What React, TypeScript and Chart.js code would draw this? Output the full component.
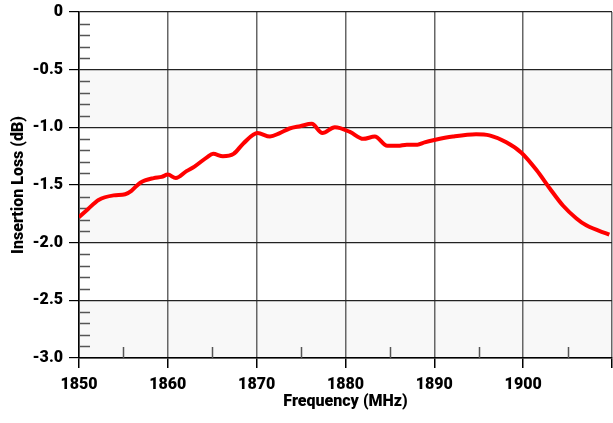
import React, { useEffect, useRef } from "react";
import { Chart, registerables } from "chart.js";

Chart.register(...registerables);

const frequencies = [
  1850, 1851, 1852.2, 1853.9, 1855.2, 1855.9, 1856.9, 1858.4, 1859.3, 1860.0, 1860.9,
  1862.1, 1863.0, 1864.4, 1865.1, 1866.2, 1867.4, 1868.5, 1870.1, 1871.5, 1872.6,
  1873.7, 1874.9, 1876.2, 1877.4, 1878.8, 1880.5, 1882.0, 1883.3, 1884.7, 1885.9,
  1886.9, 1888.1, 1888.9, 1890.0, 1892.1, 1894.7, 1896.2, 1898.1, 1899.8, 1901.5,
  1903.0, 1904.5, 1906.0, 1907.1, 1909.7,
];
const insertionLoss = [
  -1.78, -1.71, -1.63, -1.59, -1.58, -1.55, -1.48, -1.44, -1.43, -1.41, -1.44,
  -1.38, -1.34, -1.26, -1.23, -1.25, -1.23, -1.14, -1.05, -1.08, -1.05,
  -1.01, -0.99, -0.97, -1.05, -1.0, -1.04, -1.1, -1.08, -1.16, -1.16,
  -1.15, -1.15, -1.13, -1.11, -1.08, -1.06, -1.07, -1.13, -1.22, -1.37,
  -1.53, -1.68, -1.79, -1.85, -1.93,
];
const xMin = 1850;
const xMax = 1910;
const yMin = -3.0;
const yMax = 0;
const shadedBands = [
  [-0.5, -1.0],
  [-1.5, -2.0],
  [-2.5, -3.0],
];
const xMinorTicks = [1855, 1865, 1875, 1885, 1895, 1905];
const yMinorTicks = [
  -0.1, -0.2, -0.3, -0.4, -0.6, -0.7, -0.8, -0.9, -1.1, -1.2, -1.3, -1.4,
  -1.6, -1.7, -1.8, -1.9, -2.1, -2.2, -2.3, -2.4, -2.6, -2.7, -2.8, -2.9,
];

const FONT = "Roboto, 'Liberation Sans', sans-serif";

const decorPlugin = {
  id: "decor",
  beforeDraw(chart: any) {
    const { ctx, chartArea, scales } = chart;
    const y = scales.y;
    ctx.save();
    ctx.fillStyle = "#f8f8f8";
    for (const [a, b] of shadedBands) {
      const y1 = y.getPixelForValue(a);
      const y2 = y.getPixelForValue(b);
      ctx.fillRect(chartArea.left, y1, chartArea.right - chartArea.left, y2 - y1);
    }
    ctx.restore();
  },
  beforeDatasetsDraw(chart: any) {
    const { ctx, chartArea, scales } = chart;
    ctx.save();
    ctx.strokeStyle = "#555";
    ctx.lineWidth = 1.5;
    ctx.beginPath();
    for (const v of yMinorTicks) {
      const py = Math.round(scales.y.getPixelForValue(v)) + 0.5;
      ctx.moveTo(chartArea.left, py);
      ctx.lineTo(chartArea.left + 11, py);
    }
    for (const v of xMinorTicks) {
      const px = Math.round(scales.x.getPixelForValue(v)) + 0.5;
      ctx.moveTo(px, chartArea.bottom);
      ctx.lineTo(px, chartArea.bottom - 11);
    }
    ctx.stroke();
    ctx.restore();
  },
};

export default function App() {
  const ref = useRef<HTMLCanvasElement | null>(null);
  useEffect(() => {
    if (!ref.current) return;
    const chart = new Chart(ref.current, {
      type: "line",
      data: {
        datasets: [
          {
            data: frequencies.map((f, i) => ({ x: f, y: insertionLoss[i] })),
            borderColor: "#ff0000",
            borderWidth: 4,
            pointRadius: 0,
            cubicInterpolationMode: "monotone",
            fill: false,
          },
        ],
      },
      options: {
        animation: false,
        responsive: true,
        maintainAspectRatio: false,
        layout: { padding: { top: 12, right: 1, left: 0, bottom: 0 } },
        plugins: { legend: { display: false }, tooltip: { enabled: false } },
        scales: {
          x: {
            type: "linear",
            min: xMin,
            max: xMax,
            afterFit: (s: any) => {
              s.height = 65;
              s.paddingLeft = 0;
              s.paddingRight = 0;
            },
            ticks: {
              stepSize: 10,
              autoSkip: false,
              maxRotation: 0,
              padding: 7,
              color: "#000",
              font: { family: FONT, size: 16, weight: "900" },
              callback: (v: any) => (v === xMax ? "" : String(v)),
            },
            grid: { color: "#666", lineWidth: 1.5, tickLength: 10, tickColor: "#000" },
            border: { color: "#000", width: 1.5 },
            title: {
              display: true,
              text: "Frequency (MHz)",
              color: "#000",
              font: { family: FONT, size: 16, weight: "900" },
              padding: { top: 11, bottom: 11 },
            },
          },
          y: {
            min: yMin,
            max: yMax,
            afterFit: (s: any) => {
              s.width = 79;
              s.paddingTop = 0;
              s.paddingBottom = 0;
            },
            ticks: {
              stepSize: 0.5,
              padding: 6,
              color: "#000",
              font: { family: FONT, size: 16, weight: "900" },
              callback: (v: any) => (v === 0 ? "0" : Number(v).toFixed(1)),
            },
            grid: { color: "#222", lineWidth: 1.2, tickLength: 10, tickColor: "#000" },
            border: { color: "#000", width: 1.5 },
            title: {
              display: true,
              text: "Insertion Loss (dB)",
              color: "#000",
              font: { family: FONT, size: 16, weight: "900" },
              padding: { top: 9, bottom: 9 },
            },
          },
        },
      },
      plugins: [decorPlugin],
    });
    return () => chart.destroy();
  }, []);
  return (
    <div style={{ position: "absolute", left: 0, top: 0, width: 613, height: 423, background: "#fff" }}>
      <canvas ref={ref} />
    </div>
  );
}
